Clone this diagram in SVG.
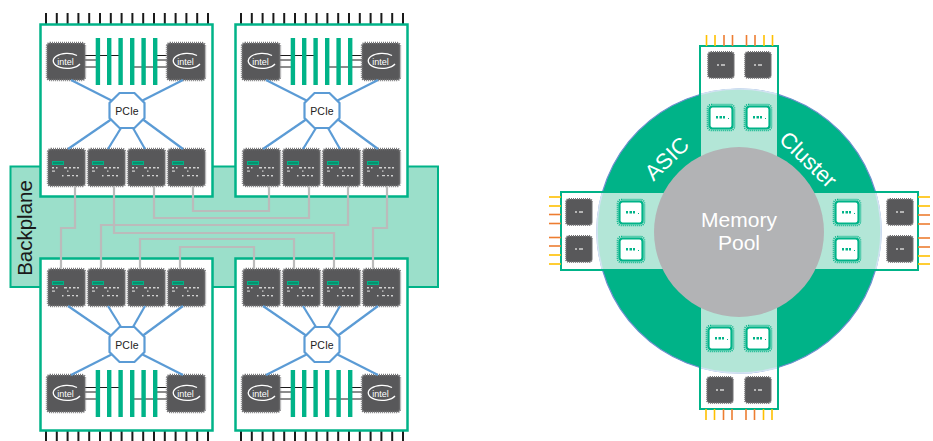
<svg xmlns="http://www.w3.org/2000/svg" xmlns:xlink="http://www.w3.org/1999/xlink" width="933" height="441" viewBox="0 0 933 441">
  <style>
    .brd { fill: #ffffff; stroke: #00B388; stroke-width: 2.5; }
    .pin { stroke: #1a1a1a; stroke-width: 2; }
    .bar { fill: #00B388; }
    .wire { stroke: #1a1a1a; stroke-width: 1; fill: none; }
    .blu { stroke: #5B9BD5; stroke-width: 2.2; fill: none; }
    .gry { stroke: #BBBBBB; stroke-width: 2.2; fill: none; }
    .chip { fill: #58585A; stroke: #767678; stroke-width: 2.4; stroke-dasharray: 1 1; }
    .oct { fill: #ffffff; stroke: #5B9BD5; stroke-width: 2.2; }
    .lbl { font-family: "Liberation Sans", Arial, sans-serif; }
    .pcie { font-size: 10.5px; fill: #222; text-anchor: middle; }
    .ring-lbl { font-size: 22px; fill: #ffffff; text-anchor: middle; }
    .py { stroke: #FFC000; stroke-width: 1.6; }
    .po { stroke: #ED7D31; stroke-width: 1.6; }
    .arm { fill: #ffffff; }
    .arm-edge { fill: none; stroke: #00B388; stroke-width: 2; }
  </style>
  <defs>
    <!-- CPU package with logo -->
    <g id="intel-chip">
      <rect class="chip" x="0" y="0" width="38" height="37" rx="3"/>
      <path d="M30,12.5 A14,7.5 0 1 0 33,21" stroke="#ffffff" stroke-width="1.3" fill="none"/>
      <text class="lbl" x="18.5" y="21.5" font-size="9" fill="#ffffff" text-anchor="middle">intel</text>
    </g>
    <!-- network controller package -->
    <g id="nic-chip">
      <rect class="chip" x="0" y="0" width="37" height="37" rx="3"/>
      <rect x="4.5" y="12.5" width="11" height="3" fill="#0b8f6d" stroke="#00B388" stroke-width="1"/>
      <g fill="#e8e8e8" opacity="0.85">
        <rect x="4" y="18" width="2" height="1.5"/>
        <rect x="8" y="18" width="1.5" height="1.5"/>
        <rect x="16" y="18" width="3" height="1.5"/>
        <rect x="21" y="18" width="2" height="1.5"/>
        <rect x="25" y="18" width="2.5" height="1.5"/>
        <rect x="29" y="18" width="2" height="1.5"/>
        <rect x="4" y="21.5" width="3" height="1.2"/>
        <rect x="19" y="21.5" width="1.5" height="1.2"/>
        <rect x="14" y="26" width="1.5" height="1.5"/>
        <rect x="19" y="26" width="3" height="1.2"/>
        <rect x="24" y="26" width="2" height="1.2"/>
        <rect x="28" y="26" width="2" height="1.5"/>
      </g>
    </g>
    <!-- two CPUs with their memory slots -->
    <g id="cpu-set">
      <line class="wire" x1="45" y1="17.5" x2="79" y2="17.5"/>
      <line class="wire" x1="45" y1="22" x2="56" y2="22"/>
      <line class="wire" x1="45" y1="29" x2="56" y2="29"/>
      <line class="wire" x1="117" y1="17.5" x2="127" y2="17.5"/>
      <line class="wire" x1="117" y1="22" x2="127" y2="22"/>
      <line class="wire" x1="91" y1="29" x2="127" y2="29"/>
      <rect class="bar" x="55.7" y="0" width="4.4" height="47"/>
      <rect class="bar" x="67" y="0" width="4.4" height="47"/>
      <rect class="bar" x="78.4" y="0" width="4.4" height="47"/>
      <rect class="bar" x="90" y="0" width="4.4" height="47"/>
      <rect class="bar" x="101.4" y="0" width="4.4" height="47"/>
      <rect class="bar" x="113" y="0" width="4.4" height="47"/>
      <use xlink:href="#intel-chip" x="7" y="5"/>
      <use xlink:href="#intel-chip" x="127" y="5"/>
    </g>
    <!-- edge connector pins -->
    <g id="pins16">
      <line class="pin" x1="6" y1="0" x2="6" y2="11"/>
      <line class="pin" x1="16.8" y1="0" x2="16.8" y2="11"/>
      <line class="pin" x1="27.6" y1="0" x2="27.6" y2="11"/>
      <line class="pin" x1="38.4" y1="0" x2="38.4" y2="11"/>
      <line class="pin" x1="49.2" y1="0" x2="49.2" y2="11"/>
      <line class="pin" x1="60" y1="0" x2="60" y2="11"/>
      <line class="pin" x1="70.8" y1="0" x2="70.8" y2="11"/>
      <line class="pin" x1="81.6" y1="0" x2="81.6" y2="11"/>
      <line class="pin" x1="92.4" y1="0" x2="92.4" y2="11"/>
      <line class="pin" x1="103.2" y1="0" x2="103.2" y2="11"/>
      <line class="pin" x1="114" y1="0" x2="114" y2="11"/>
      <line class="pin" x1="124.8" y1="0" x2="124.8" y2="11"/>
      <line class="pin" x1="135.6" y1="0" x2="135.6" y2="11"/>
      <line class="pin" x1="146.4" y1="0" x2="146.4" y2="11"/>
      <line class="pin" x1="157.2" y1="0" x2="157.2" y2="11"/>
      <line class="pin" x1="168" y1="0" x2="168" y2="11"/>
    </g>
    <!-- PCIe switch outline, centred on 0,0 -->
    <polygon id="octagon" class="oct" points="-7.5,-17.5 7.5,-17.5 17.5,-7.5 17.5,7.5 7.5,17.5 -7.5,17.5 -17.5,7.5 -17.5,-7.5"/>
    <!-- PCIe fan-out for one board (upper orientation) -->
    <g id="pcie-links">
      <line x1="71" y1="80" x2="111.5" y2="100.5"/>
      <line x1="183" y1="80" x2="142.5" y2="100.5"/>
      <line x1="111" y1="119.5" x2="68" y2="149"/>
      <line x1="121" y1="128" x2="108" y2="149"/>
      <line x1="133" y1="128" x2="145" y2="149"/>
      <line x1="143" y1="119.5" x2="183" y2="149"/>
    </g>
    <!-- small packages of the memory cluster -->
    <g id="dchip">
      <rect x="0" y="0" width="26" height="26" rx="3" fill="#58585A" stroke="#737375" stroke-width="2" stroke-dasharray="1 1"/>
      <rect x="9" y="12" width="2" height="2" fill="#b5b5b5"/>
      <rect x="13" y="12" width="4" height="2" fill="#b5b5b5"/>
    </g>
    <g id="gchip">
      <rect x="-1.5" y="-1.5" width="27" height="26" rx="4" fill="none" stroke="#00B388" stroke-width="1.6" stroke-dasharray="1 1"/>
      <rect x="0.5" y="0.5" width="23" height="22" rx="3" fill="#ffffff" stroke="#00B388" stroke-width="2.2"/>
      <rect x="7" y="10" width="2" height="2.5" fill="#00B388"/>
      <rect x="10.5" y="10" width="2.5" height="2.5" fill="#00B388"/>
      <rect x="14" y="10" width="2" height="2.5" fill="#00B388"/>
      <rect x="19" y="12" width="1" height="1" fill="#00B388"/>
    </g>
    <clipPath id="ring-clip">
      <circle cx="739" cy="231" r="142"/>
    </clipPath>
    <clipPath id="cross-clip">
      <rect x="700" y="80" width="78" height="302"/>
      <rect x="590" y="192" width="300" height="78"/>
    </clipPath>
  </defs>

  <!-- ===== Left: four server boards on a backplane ===== -->
  <g id="backplane">
    <rect x="10.5" y="166.5" width="427.5" height="120.5" fill="#9BDFCA" stroke="#00B388" stroke-width="2"/>
    <text class="lbl" transform="translate(32 228) rotate(-90)" font-size="20.5" fill="#1a1a1a" text-anchor="middle">Backplane</text>
  </g>

  <g id="board-top-left">
    <use xlink:href="#pins16" transform="translate(40 13)"/>
    <rect class="brd" x="40.5" y="24.5" width="172" height="172"/>
    <use xlink:href="#cpu-set" transform="translate(40 38)"/>
    <use xlink:href="#nic-chip" x="48" y="149"/>
    <use xlink:href="#nic-chip" x="88" y="149"/>
    <use xlink:href="#nic-chip" x="128" y="149"/>
    <use xlink:href="#nic-chip" x="168" y="149"/>
  </g>

  <g id="board-top-right">
    <use xlink:href="#pins16" transform="translate(235 13)"/>
    <rect class="brd" x="235.5" y="24.5" width="172" height="172"/>
    <use xlink:href="#cpu-set" transform="translate(235 38)"/>
    <use xlink:href="#nic-chip" x="243" y="149"/>
    <use xlink:href="#nic-chip" x="283" y="149"/>
    <use xlink:href="#nic-chip" x="323" y="149"/>
    <use xlink:href="#nic-chip" x="363" y="149"/>
  </g>

  <g id="board-bottom-left">
    <use xlink:href="#pins16" transform="translate(40 431)"/>
    <rect class="brd" x="40.5" y="258.5" width="172" height="172"/>
    <use xlink:href="#cpu-set" transform="translate(40 370)"/>
    <use xlink:href="#nic-chip" x="48" y="269"/>
    <use xlink:href="#nic-chip" x="88" y="269"/>
    <use xlink:href="#nic-chip" x="128" y="269"/>
    <use xlink:href="#nic-chip" x="168" y="269"/>
  </g>

  <g id="board-bottom-right">
    <use xlink:href="#pins16" transform="translate(235 431)"/>
    <rect class="brd" x="235.5" y="258.5" width="172" height="172"/>
    <use xlink:href="#cpu-set" transform="translate(235 370)"/>
    <use xlink:href="#nic-chip" x="243" y="269"/>
    <use xlink:href="#nic-chip" x="283" y="269"/>
    <use xlink:href="#nic-chip" x="323" y="269"/>
    <use xlink:href="#nic-chip" x="363" y="269"/>
  </g>

  <g id="connectors">
    <!-- PCIe fan-out on each board -->
    <g class="blu">
      <use xlink:href="#pcie-links"/>
      <use xlink:href="#pcie-links" transform="translate(195 0)"/>
      <use xlink:href="#pcie-links" transform="matrix(1 0 0 -1 0 455)"/>
      <use xlink:href="#pcie-links" transform="matrix(1 0 0 -1 195 455)"/>
    </g>
    <!-- backplane links between network controllers -->
    <g class="gry">
      <path d="M75,186 V228 H61 V269"/>
      <path d="M193,186 V211 H269 V186"/>
      <path d="M154,186 V218 H309 V186"/>
      <path d="M101,269 V225 H348 V186"/>
      <path d="M114,186 V233 H334 V269"/>
      <path d="M140,269 V239 H294 V269"/>
      <path d="M180,269 V247 H254 V269"/>
      <path d="M387,186 V228 H373 V269"/>
    </g>
  </g>

  <g id="pcie-switches">
    <g id="pcie-tl">
      <use xlink:href="#octagon" transform="translate(127 110.5)"/>
      <text class="lbl pcie" x="127" y="114.5">PCIe</text>
    </g>
    <g id="pcie-tr">
      <use xlink:href="#octagon" transform="translate(322 110.5)"/>
      <text class="lbl pcie" x="322" y="114.5">PCIe</text>
    </g>
    <g id="pcie-bl">
      <use xlink:href="#octagon" transform="translate(127 344.5)"/>
      <text class="lbl pcie" x="127" y="348.5">PCIe</text>
    </g>
    <g id="pcie-br">
      <use xlink:href="#octagon" transform="translate(322 344.5)"/>
      <text class="lbl pcie" x="322" y="348.5">PCIe</text>
    </g>
  </g>

  <!-- ===== Right: ASIC cluster around a shared memory pool ===== -->
  <g id="memory-cluster">
    <g id="arm-fills">
      <rect class="arm" x="700" y="46" width="78" height="185"/>
      <rect class="arm" x="700" y="231" width="78" height="178"/>
      <rect class="arm" x="561" y="192" width="178" height="78"/>
      <rect class="arm" x="739" y="192" width="179" height="78"/>
    </g>
    <g id="asic-ring">
      <circle cx="739" cy="231" r="142" fill="#00B388" stroke="#6f8fcf" stroke-width="1.2"/>
      <g clip-path="url(#ring-clip)" fill="#B3E6D7">
        <rect x="700" y="80" width="78" height="302"/>
        <rect x="590" y="192" width="300" height="78"/>
      </g>
      <g clip-path="url(#cross-clip)">
        <circle cx="739" cy="231" r="142" fill="none" stroke="#d3e3f2" stroke-width="1.6"/>
      </g>
      <text class="lbl ring-lbl" transform="translate(672 164) rotate(-44)">ASIC</text>
      <text class="lbl ring-lbl" transform="translate(803 165) rotate(44)">Cluster</text>
    </g>
    <g id="arm-outlines">
      <rect class="arm-edge" x="700" y="46" width="78" height="185"/>
      <rect class="arm-edge" x="700" y="231" width="78" height="178"/>
      <rect class="arm-edge" x="561" y="192" width="178" height="78"/>
      <rect class="arm-edge" x="739" y="192" width="179" height="78"/>
    </g>
    <g id="memory-pool">
      <circle cx="739" cy="232" r="85" fill="#B2B3B5"/>
      <text class="lbl" x="739" y="227" font-size="21" fill="#ffffff" text-anchor="middle">Memory</text>
      <text class="lbl" x="739" y="250" font-size="21" fill="#ffffff" text-anchor="middle">Pool</text>
    </g>

    <g id="arm-top">
      <line class="py" x1="706.5" y1="35" x2="706.5" y2="46"/>
      <line class="py" x1="715" y1="35" x2="715" y2="46"/>
      <line class="po" x1="724" y1="35" x2="724" y2="46"/>
      <line class="po" x1="732.5" y1="35" x2="732.5" y2="46"/>
      <line class="po" x1="746.5" y1="35" x2="746.5" y2="46"/>
      <line class="po" x1="755" y1="35" x2="755" y2="46"/>
      <line class="py" x1="764" y1="35" x2="764" y2="46"/>
      <line class="py" x1="772.5" y1="35" x2="772.5" y2="46"/>
      <use xlink:href="#dchip" x="708" y="52"/>
      <use xlink:href="#dchip" x="745" y="52"/>
      <use xlink:href="#gchip" x="709" y="106"/>
      <use xlink:href="#gchip" x="746" y="106"/>
    </g>
    <g id="arm-bottom">
      <line class="py" x1="706" y1="409" x2="706" y2="420"/>
      <line class="py" x1="714.5" y1="409" x2="714.5" y2="420"/>
      <line class="po" x1="723.5" y1="409" x2="723.5" y2="420"/>
      <line class="po" x1="732" y1="409" x2="732" y2="420"/>
      <line class="po" x1="746" y1="409" x2="746" y2="420"/>
      <line class="po" x1="754.5" y1="409" x2="754.5" y2="420"/>
      <line class="py" x1="763.5" y1="409" x2="763.5" y2="420"/>
      <line class="py" x1="772" y1="409" x2="772" y2="420"/>
      <use xlink:href="#gchip" x="708" y="327"/>
      <use xlink:href="#gchip" x="746" y="327"/>
      <use xlink:href="#dchip" x="707" y="377"/>
      <use xlink:href="#dchip" x="745" y="377"/>
    </g>
    <g id="arm-left">
      <line class="py" x1="549" y1="197" x2="561" y2="197"/>
      <line class="py" x1="549" y1="206" x2="561" y2="206"/>
      <line class="po" x1="549" y1="214.5" x2="561" y2="214.5"/>
      <line class="po" x1="549" y1="223.5" x2="561" y2="223.5"/>
      <line class="po" x1="549" y1="237.5" x2="561" y2="237.5"/>
      <line class="po" x1="549" y1="246" x2="561" y2="246"/>
      <line class="py" x1="549" y1="255" x2="561" y2="255"/>
      <line class="py" x1="549" y1="264" x2="561" y2="264"/>
      <use xlink:href="#dchip" x="566" y="199"/>
      <use xlink:href="#dchip" x="566" y="236"/>
      <use xlink:href="#gchip" x="619" y="201"/>
      <use xlink:href="#gchip" x="619" y="238"/>
    </g>
    <g id="arm-right">
      <line class="py" x1="918" y1="197" x2="930" y2="197"/>
      <line class="py" x1="918" y1="206" x2="930" y2="206"/>
      <line class="po" x1="918" y1="215" x2="930" y2="215"/>
      <line class="po" x1="918" y1="224" x2="930" y2="224"/>
      <line class="po" x1="918" y1="238" x2="930" y2="238"/>
      <line class="po" x1="918" y1="247" x2="930" y2="247"/>
      <line class="py" x1="918" y1="256" x2="930" y2="256"/>
      <line class="py" x1="918" y1="264" x2="930" y2="264"/>
      <use xlink:href="#gchip" x="835" y="201"/>
      <use xlink:href="#gchip" x="835" y="238"/>
      <use xlink:href="#dchip" x="887" y="199"/>
      <use xlink:href="#dchip" x="887" y="236"/>
    </g>
  </g>
</svg>
